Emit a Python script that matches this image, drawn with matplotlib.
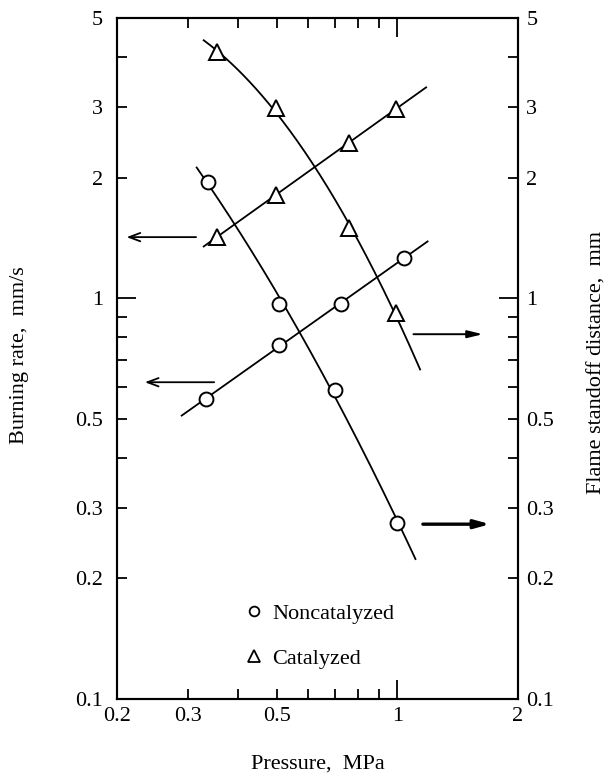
import numpy as np
import matplotlib
matplotlib.use("Agg")
import matplotlib.pyplot as plt
from matplotlib.lines import Line2D

plt.rcParams['font.family'] = ['Liberation Serif', 'DejaVu Serif']

# ---- data ----
# Catalyzed
cat_p = [0.355, 0.497, 0.756, 0.99]
cat_rate = [1.42, 1.81, 2.44, 2.96]
cat_standoff = [4.11, 2.98, 1.50, 0.918]
cat_rate_range = [0.329, 1.18]
cat_standoff_range = [0.329, 1.14]

# Noncatalyzed
non_p_rate = [0.333, 0.508, 0.722, 1.04]
non_rate = [0.56, 0.764, 0.967, 1.26]
non_p_standoff = [0.337, 0.508, 0.70, 1.0]
non_standoff = [1.95, 0.967, 0.59, 0.275]
non_rate_range = [0.29, 1.19]
non_standoff_range = [0.316, 1.11]

x_ticks_labeled = [0.2, 0.3, 0.5, 1, 2]
y_ticks_labeled = [0.1, 0.2, 0.3, 0.5, 1, 2, 3, 5]
x_minor = [0.4, 0.6, 0.7, 0.8, 0.9]
y_minor = [0.4, 0.6, 0.7, 0.8, 0.9, 4]

FS = 16

fig = plt.figure(figsize=(6.08, 7.78), dpi=100)
ax = fig.add_axes([117/608, 1-699/778, 401/608, 681/778])
ax2 = ax.twinx()
for a in (ax, ax2):
    a.set_xscale('log')
    a.set_yscale('log')
    a.set_xlim(0.2, 2)
    a.set_ylim(0.1, 5)

def fit_curve(px, py, rng, deg):
    c = np.polyfit(np.log10(px), np.log10(py), deg)
    xs = np.logspace(np.log10(rng[0]), np.log10(rng[1]), 200)
    ys = 10 ** np.polyval(c, np.log10(xs))
    return xs, ys

lw = 1.3
for px, py, rng, deg in [(cat_p, cat_rate, cat_rate_range, 1),
                         (cat_p, cat_standoff, cat_standoff_range, 2),
                         (non_p_rate, non_rate, non_rate_range, 1),
                         (non_p_standoff, non_standoff, non_standoff_range, 2)]:
    xs, ys = fit_curve(px, py, rng, deg)
    ax.plot(xs, ys, color='black', lw=lw, zorder=2)

mk = dict(color='black', markerfacecolor='white', markeredgecolor='black',
          markeredgewidth=1.4, linestyle='none', zorder=3)
ax.plot(cat_p, cat_rate, marker='^', markersize=11, **mk)
ax.plot(cat_p, cat_standoff, marker='^', markersize=11, **mk)
ax.plot(non_p_rate, non_rate, marker='o', markersize=10, **mk)
ax.plot(non_p_standoff, non_standoff, marker='o', markersize=10, **mk)

# arrows
left_kw = dict(arrowstyle='->,head_length=0.8,head_width=0.3', color='black', lw=1.3)
ax.annotate('', xy=(0.208, 1.42), xytext=(0.32, 1.42), arrowprops=left_kw)
ax.annotate('', xy=(0.231, 0.617), xytext=(0.355, 0.617), arrowprops=left_kw)
ax.annotate('', xy=(1.66, 0.813), xytext=(1.08, 0.813),
            arrowprops=dict(arrowstyle='-|>,head_length=0.9,head_width=0.22',
                            color='black', lw=1.4))
ax.annotate('', xy=(1.73, 0.273), xytext=(1.14, 0.273),
            arrowprops=dict(arrowstyle='-|>,head_length=0.9,head_width=0.25',
                            color='black', lw=2.4))

# ticks
fmt = lambda v: ('%g' % v)
for a in (ax, ax2):
    a.set_xticks(x_ticks_labeled)
    a.set_xticklabels([fmt(v) for v in x_ticks_labeled])
    a.set_xticks(x_minor, minor=True)
    a.set_yticks(y_ticks_labeled)
    a.set_yticklabels([fmt(v) for v in y_ticks_labeled])
    a.set_yticks(y_minor, minor=True)
    a.xaxis.set_minor_formatter(plt.NullFormatter())
    a.yaxis.set_minor_formatter(plt.NullFormatter())
    a.tick_params(which='both', direction='in', width=1.3, labelsize=FS, length=7)

ax.tick_params(which='both', top=True, right=False, labelright=False)
ax.tick_params(axis='y', which='major', pad=10)
ax.tick_params(axis='x', which='major', pad=6)
ax2.tick_params(which='both', left=False, right=True, labelleft=False, labelright=True,
                bottom=False, top=False, labelbottom=False)
ax2.tick_params(axis='y', which='major', pad=6)

for a in (ax, ax2):
    for t, v in zip(a.xaxis.get_major_ticks(), x_ticks_labeled):
        if v == 1:
            t.tick1line.set_markersize(14)
            t.tick2line.set_markersize(14)
    for t, v in zip(a.yaxis.get_major_ticks(), y_ticks_labeled):
        if v == 1:
            t.tick1line.set_markersize(14)
            t.tick2line.set_markersize(14)
    for s in a.spines.values():
        s.set_linewidth(1.5)

ax.set_xlabel('Pressure,  MPa', fontsize=FS, labelpad=20)
fig.text(20/608, 1-355/778, 'Burning rate,  mm/s', rotation=90,
         fontsize=FS, ha='center', va='center')
fig.text(597/608, 1-363/778, 'Flame standoff distance,  mm', rotation=90,
         fontsize=FS, ha='center', va='center')

handles = [Line2D([], [], marker='o', markersize=7, markerfacecolor='white',
                  markeredgecolor='black', markeredgewidth=1.3, linestyle='none'),
           Line2D([], [], marker='^', markersize=8, markerfacecolor='white',
                  markeredgecolor='black', markeredgewidth=1.3, linestyle='none')]
ax.legend(handles, ['Noncatalyzed', 'Catalyzed'], loc='center left',
          bbox_to_anchor=(0.265, 0.092), frameon=False, fontsize=FS,
          handletextpad=0.3, labelspacing=1.1, handlelength=1.0)

fig.savefig('out.png', dpi=100)
